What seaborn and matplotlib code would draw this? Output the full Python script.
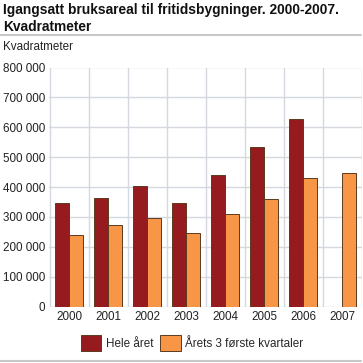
import numpy as np
import pandas as pd
import matplotlib
matplotlib.use("Agg")
import matplotlib.pyplot as plt
from matplotlib.patches import Patch
from matplotlib.lines import Line2D
from matplotlib.ticker import FuncFormatter, MultipleLocator
import seaborn as sns

# data
years = ["2000", "2001", "2002", "2003", "2004", "2005", "2006", "2007"]
hele_aret = [348000, 363000, 403000, 346000, 439000, 533000, 628000, np.nan]
tre_kvartaler = [239000, 272000, 296000, 246000, 309000, 360000, 430000, 448000]
series_names = ["Hele året", "Årets 3 første kvartaler"]
colors = ["#961b1f", "#f79646"]

df = pd.DataFrame({
    "year": years * 2,
    "value": hele_aret + tre_kvartaler,
    "series": [series_names[0]] * len(years) + [series_names[1]] * len(years),
})

sns.set_style("white")
plt.rcParams["font.family"] = ["Liberation Sans", "DejaVu Sans"]
fs = 8.4

fig = plt.figure(figsize=(3.63, 3.63), dpi=100)
ax = fig.add_axes([49.5 / 363, 1 - 306.5 / 363, 312 / 363, 239 / 363])

sns.barplot(data=df, x="year", y="value", hue="series", order=years,
            hue_order=series_names, palette=colors, saturation=1, width=0.7,
            edgecolor="#5c3a1e", linewidth=0.7, legend=False, ax=ax, zorder=3)

ax.set_ylim(0, 800000)
ax.set_xlim(-0.5, 7.5)
ax.yaxis.set_major_locator(MultipleLocator(100000))
ax.yaxis.set_major_formatter(FuncFormatter(lambda v, p: f"{int(v):,}".replace(",", " ")))
ax.set_xticks(np.arange(-0.5, 8, 1), minor=True)
ax.grid(axis="y", color="#d5d8de", linewidth=1, zorder=0)
ax.grid(axis="x", which="minor", color="#d5d8de", linewidth=1, zorder=0)
ax.grid(axis="x", which="major", visible=False)
for s in ax.spines.values():
    s.set_visible(False)
ax.tick_params(axis="both", which="both", length=0, labelsize=fs, colors="#222222", pad=3)
ax.set_xlabel("")
ax.set_ylabel("")

# title, separator lines and unit label
fig.text(3 / 363, 1 - 3 / 363, "Igangsatt bruksareal til fritidsbygninger. 2000-2007.\nKvadratmeter",
         fontsize=9.9, fontweight="bold", va="top", ha="left", color="#111111", linespacing=1.3)
fig.add_artist(Line2D([0, 361 / 363], [1 - 35 / 363] * 2, color="#c8c8c8", linewidth=1.5))
fig.add_artist(Line2D([0, 361 / 363], [1 - 361 / 363] * 2, color="#c8c8c8", linewidth=1.5))
fig.text(3 / 363, 1 - 47 / 363, "Kvadratmeter", fontsize=fs, va="center", ha="left", color="#222222")

handles = [Patch(facecolor=c, edgecolor="#5c3a1e", linewidth=0.7) for c in colors]
fig.legend(handles, series_names, loc="center", bbox_to_anchor=(192 / 363, 1 - 343 / 363),
           ncol=2, frameon=False, fontsize=fs, handlelength=1.75, handleheight=1.75,
           handletextpad=0.4, columnspacing=0.6, borderpad=0)

fig.savefig("out.png", dpi=100)
